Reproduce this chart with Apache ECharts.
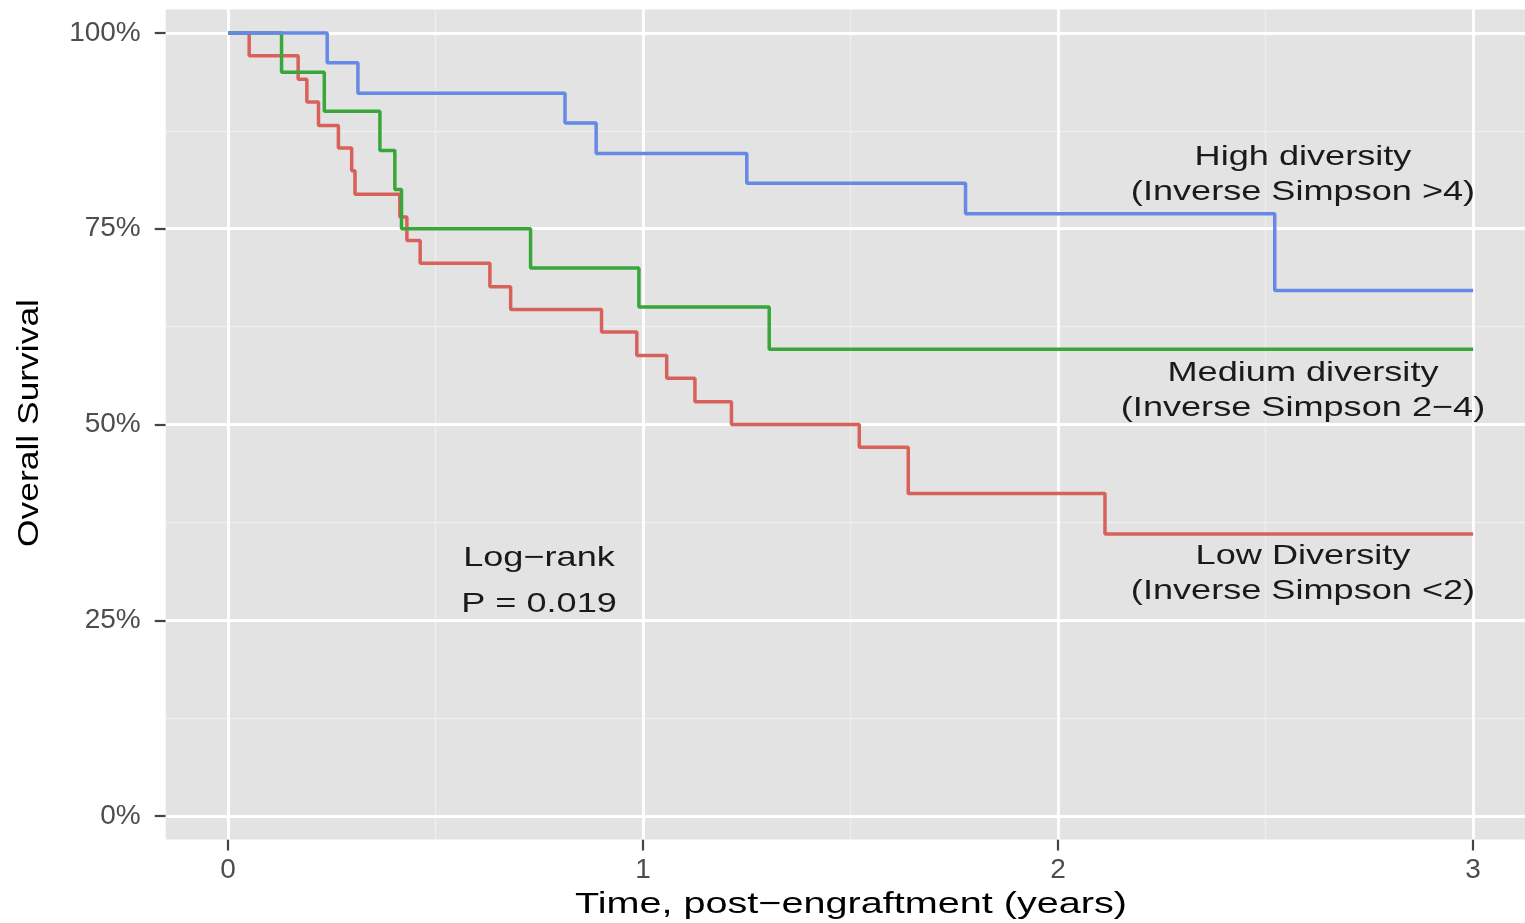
<!DOCTYPE html>
<html>
<head>
<meta charset="utf-8">
<script src="https://cdn.jsdelivr.net/npm/echarts@6/dist/echarts.min.js"></script>
<style>
html,body{margin:0;padding:0;background:#fff;}
#chart{width:1525px;height:923px;}
</style>
</head>
<body>
<div id="chart"></div>
<script>
// ---- data ----
const highTime = [0, 0.239, 0.313, 0.812, 0.887, 1.250, 1.777, 2.522, 3.0];
const highSurv = [100, 96.2, 92.3, 88.5, 84.6, 80.8, 76.9, 67.1, 67.1];

const medTime = [0, 0.129, 0.232, 0.366, 0.402, 0.418, 0.729, 0.990, 1.304, 3.0];
const medSurv = [100, 95, 90, 85, 80, 75, 70, 65, 59.6, 59.6];

const lowTime = [0, 0.051, 0.169, 0.190, 0.218, 0.266, 0.298, 0.306, 0.414, 0.431, 0.463, 0.631, 0.681, 0.900, 0.985, 1.057, 1.125, 1.213, 1.521, 1.639, 2.113, 3.0];
const lowSurv = [100, 97.1, 94.1, 91.2, 88.2, 85.3, 82.4, 79.4, 76.5, 73.5, 70.6, 67.6, 64.7, 61.8, 58.8, 55.9, 52.9, 50.0, 47.1, 41.2, 36.0, 36.0];

const xTicks = [0, 1, 2, 3];
const xMinor = [0.5, 1.5, 2.5];
const yTicks = [0, 25, 50, 75, 100];
const yMinor = [12.5, 37.5, 62.5, 87.5];

const groupLabels = [
  ['High diversity', '(Inverse Simpson >4)'],
  ['Medium diversity', '(Inverse Simpson 2\u22124)'],
  ['Low Diversity', '(Inverse Simpson <2)']
];
const statLabels = ['Log\u2212rank', 'P = 0.019'];
const xTitle = 'Time, post\u2212engraftment (years)';
const yTitle = 'Overall Survival';

// ---- build ----
const zip = (a, b) => a.map((v, i) => [v, b[i]]);
const FONT = '"Liberation Sans", Arial, Helvetica, sans-serif';
const SX = 1.29;

const chart = echarts.init(document.getElementById('chart'), null, {renderer: 'canvas'});

const gridLines = [].concat(
  xMinor.map(v => ({xAxis: v, lineStyle: {color: '#eeeeee', width: 1.3, type: 'solid'}})),
  yMinor.map(v => ({yAxis: v, lineStyle: {color: '#eeeeee', width: 1.3, type: 'solid'}})),
  xTicks.map(v => ({xAxis: v, lineStyle: {color: '#ffffff', width: 2.8, type: 'solid'}})),
  yTicks.map(v => ({yAxis: v, lineStyle: {color: '#ffffff', width: 2.8, type: 'solid'}}))
);

function txt(x, y, text, opts) {
  opts = opts || {};
  return {
    type: 'text', x: x, y: y, z: 100,
    rotation: opts.rotation || 0,
    scaleX: opts.scaleX || SX, scaleY: 1,
    style: {
      text: text,
      font: (opts.size || 28) + 'px ' + FONT,
      fill: opts.color || '#1a1a1a',
      align: 'center', verticalAlign: 'middle'
    }
  };
}

const option = {
  animation: false,
  backgroundColor: '#ffffff',
  grid: {
    left: 165.75, top: 9.5, right: 0, height: 830,
    show: true, backgroundColor: '#e3e3e3', borderWidth: 0
  },
  xAxis: {
    type: 'value', min: -0.15, max: 3.125,
    axisLine: {show: false, onZero: false},
    splitLine: {show: false},
    axisTick: {show: true, inside: false, customValues: xTicks, length: 11, lineStyle: {color: '#444', width: 2.2}},
    axisLabel: {customValues: xTicks, fontSize: 28, color: '#4d4d4d', fontFamily: FONT, margin: 17}
  },
  yAxis: {
    type: 'value', min: -3, max: 103,
    axisLine: {show: false, onZero: false},
    splitLine: {show: false},
    axisTick: {show: true, inside: false, customValues: yTicks, length: 11, lineStyle: {color: '#444', width: 2.2}},
    axisLabel: {customValues: yTicks, fontSize: 28, color: '#4d4d4d', fontFamily: FONT, margin: 25,
      formatter: v => v + '%'}
  },
  series: [
    {
      type: 'line', name: 'grid', data: [], z: 1, silent: true,
      markLine: {silent: true, z: 1, symbol: ['none', 'none'], label: {show: false}, animation: false, data: gridLines}
    },
    {
      type: 'line', name: 'Low', step: 'end', data: zip(lowTime, lowSurv), z: 10,
      showSymbol: false, lineStyle: {color: '#D8615B', width: 3.5}, itemStyle: {color: '#D8615B'}
    },
    {
      type: 'line', name: 'Medium', step: 'end', data: zip(medTime, medSurv), z: 11,
      showSymbol: false, lineStyle: {color: '#38A638', width: 3.5}, itemStyle: {color: '#38A638'}
    },
    {
      type: 'line', name: 'High', step: 'end', data: zip(highTime, highSurv), z: 12,
      showSymbol: false, lineStyle: {color: '#6688E6', width: 3.5}, itemStyle: {color: '#6688E6'}
    }
  ],
  graphic: [
    txt(1303, 157, groupLabels[0][0]),
    txt(1303, 192, groupLabels[0][1]),
    txt(1303, 373, groupLabels[1][0]),
    txt(1303, 408, groupLabels[1][1]),
    txt(1303, 556, groupLabels[2][0]),
    txt(1303, 591, groupLabels[2][1]),
    txt(539, 558, statLabels[0]),
    txt(539, 604, statLabels[1]),
    txt(851, 905, xTitle, {size: 30, scaleX: 1.32, color: '#000'}),
    txt(30, 423, yTitle, {size: 30, scaleX: 1.18, rotation: Math.PI / 2, color: '#000'})
  ]
};
chart.setOption(option);
</script>
</body>
</html>
